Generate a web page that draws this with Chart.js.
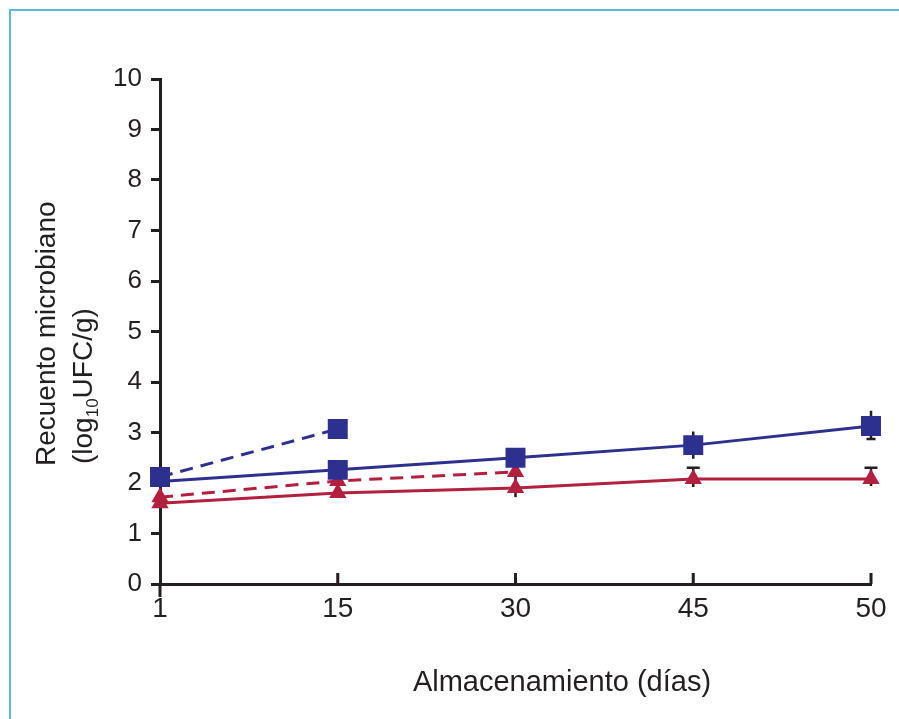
<!DOCTYPE html>
<html lang="es">
<head>
<meta charset="utf-8">
<script src="https://cdn.jsdelivr.net/npm/chart.js@4.4.1/dist/chart.umd.min.js"></script>
<style>
html, body { margin: 0; padding: 0; background: #fff; }
#marco { position: relative; width: 899px; height: 719px; overflow: hidden; }
#borde { position: absolute; left: 9px; top: 9px; width: 910px; height: 730px;
         border-top: 2px solid #5cb9de; border-left: 2px solid #5cb9de; }
canvas { position: absolute; left: 0; top: 0; }
</style>
</head>
<body>
<div id="marco">
  <div id="borde"></div>
  <canvas id="grafico" width="899" height="719"></canvas>
</div>
<script>
// Días de almacenamiento (eje X, categorías equiespaciadas)
const dias = ['1', '15', '30', '45', '50'];

// Recuento microbiano, log10 UFC/g
const azulContinua    = [2.03, 2.26, 2.50, 2.75, 3.13];
const azulDiscontinua = [2.12, 3.07, null, null, null];
const rojaContinua    = [1.60, 1.80, 1.90, 2.08, 2.08];
const rojaDiscontinua = [1.72, 2.04, 2.22, null, null];

// Desviaciones (superior / inferior)
const azulErrorSup = [null, null, null, 0.27, 0.30];
const azulErrorInf = [null, null, null, 0.27, 0.26];
const rojaErrorSup = [null, null, 0.22, 0.22, 0.22];
const rojaErrorInf = [null, null, 0.18, 0.16, 0.14];

// Eje Y
const yMin = 0, yMax = 10, yPaso = 1;

const AZUL = '#2e3090';
const ROJO = '#b3203f';
const NEGRO = '#231f20';
const FUENTE = "'Liberation Sans', Arial, sans-serif";

// Barras de error dibujadas con las escalas del gráfico
const barrasError = {
  id: 'barrasError',
  beforeDatasetsDraw(chart) {
    const { ctx, scales: { x, y } } = chart;
    chart.data.datasets.forEach((ds) => {
      const e = ds.errores;
      if (!e) return;
      ds.data.forEach((v, j) => {
        const sup = e.sup[j], inf = e.inf[j];
        if (v == null || (sup == null && inf == null)) return;
        const px = x.getPixelForValue(j);
        const yA = y.getPixelForValue(v + (sup || 0));
        const yB = y.getPixelForValue(v - (inf || 0));
        ctx.save();
        ctx.strokeStyle = NEGRO;
        ctx.lineWidth = 2.5;
        ctx.beginPath();
        ctx.moveTo(px, yA);
        ctx.lineTo(px, yB);
        const remates = (e.remates && e.remates[j]) || [];
        const w = e.anchoRemate / 2;
        if (remates.includes('sup')) { ctx.moveTo(px - w, yA); ctx.lineTo(px + w, yA); }
        if (remates.includes('inf')) { ctx.moveTo(px - w, yB); ctx.lineTo(px + w, yB); }
        ctx.stroke();
        ctx.restore();
      });
    });
  }
};

// Marcas interiores del eje X, prolongación del eje Y y títulos de los ejes
const decoracion = {
  id: 'decoracion',
  afterDraw(chart) {
    const { ctx, scales: { x }, chartArea } = chart;
    ctx.save();
    ctx.strokeStyle = NEGRO;
    ctx.lineWidth = 3;
    ctx.beginPath();
    x.ticks.forEach((t, i) => {
      if (i === 0) return;
      const px = x.getPixelForTick(i);
      ctx.moveTo(px, chartArea.bottom);
      ctx.lineTo(px, chartArea.bottom - 11);
    });
    ctx.moveTo(chartArea.left, chartArea.bottom);
    ctx.lineTo(chartArea.left, chartArea.bottom + 13);
    ctx.stroke();

    // Título del eje X
    ctx.fillStyle = NEGRO;
    ctx.font = '29px ' + FUENTE;
    ctx.textAlign = 'center';
    ctx.textBaseline = 'alphabetic';
    ctx.fillText('Almacenamiento (días)', 562, 691);

    // Título del eje Y (dos líneas, con subíndice)
    ctx.textAlign = 'left';
    ctx.save();
    ctx.translate(55, 466);
    ctx.rotate(-Math.PI / 2);
    ctx.font = '28px ' + FUENTE;
    ctx.fillText('Recuento microbiano', 0, 0);
    ctx.restore();

    ctx.save();
    ctx.translate(92, 464);
    ctx.rotate(-Math.PI / 2);
    ctx.font = '28px ' + FUENTE;
    let cx = 0;
    ctx.fillText('(log', cx, 0);
    cx += ctx.measureText('(log').width;
    ctx.font = '17px ' + FUENTE;
    ctx.fillText('10', cx, 6);
    cx += ctx.measureText('10').width;
    ctx.font = '28px ' + FUENTE;
    ctx.fillText('UFC/g)', cx, 0);
    ctx.restore();
    ctx.restore();
  }
};

new Chart(document.getElementById('grafico'), {
  type: 'line',
  data: {
    labels: dias,
    datasets: [
      {
        data: azulContinua,
        borderColor: AZUL, backgroundColor: AZUL,
        borderWidth: 3, pointStyle: 'rect',
        pointRadius: (c) => (c.dataIndex === 0 ? 0 : 12),
        errores: { sup: azulErrorSup, inf: azulErrorInf, anchoRemate: 9, remates: { 4: ['inf'] } }
      },
      {
        data: azulDiscontinua,
        borderColor: AZUL, backgroundColor: AZUL,
        borderWidth: 3, borderDash: [13, 8], pointStyle: 'rect', pointRadius: 12
      },
      {
        data: rojaContinua,
        borderColor: ROJO, backgroundColor: ROJO,
        borderWidth: 3, pointStyle: 'triangle', pointRadius: 7,
        errores: { sup: rojaErrorSup, inf: rojaErrorInf, anchoRemate: 13, remates: { 3: ['sup'], 4: ['sup'] } }
      },
      {
        data: rojaDiscontinua,
        borderColor: ROJO, backgroundColor: ROJO,
        borderWidth: 3, borderDash: [13, 8], pointStyle: 'triangle', pointRadius: 7
      }
    ]
  },
  options: {
    responsive: false,
    devicePixelRatio: 1,
    animation: false,
    spanGaps: false,
    layout: { padding: { top: 79, right: 28, left: 0, bottom: 0 } },
    plugins: { legend: { display: false }, tooltip: { enabled: false } },
    elements: { point: { borderWidth: 0 }, line: { tension: 0 } },
    scales: {
      x: {
        type: 'category',
        offset: false,
        grid: { display: false, drawTicks: false },
        border: { display: true, color: NEGRO, width: 3 },
        ticks: { color: NEGRO, font: { family: FUENTE, size: 28 }, padding: 8, maxRotation: 0 },
        afterFit: (s) => { s.height = 135; }
      },
      y: {
        min: yMin, max: yMax,
        grid: { drawOnChartArea: false, drawTicks: true, tickLength: 9, color: NEGRO, lineWidth: 3 },
        border: { display: true, color: NEGRO, width: 3 },
        ticks: { stepSize: yPaso, color: NEGRO, font: { family: FUENTE, size: 26 }, padding: 9 },
        afterFit: (s) => { s.width = 160; }
      }
    }
  },
  plugins: [barrasError, decoracion]
});
</script>
</body>
</html>
